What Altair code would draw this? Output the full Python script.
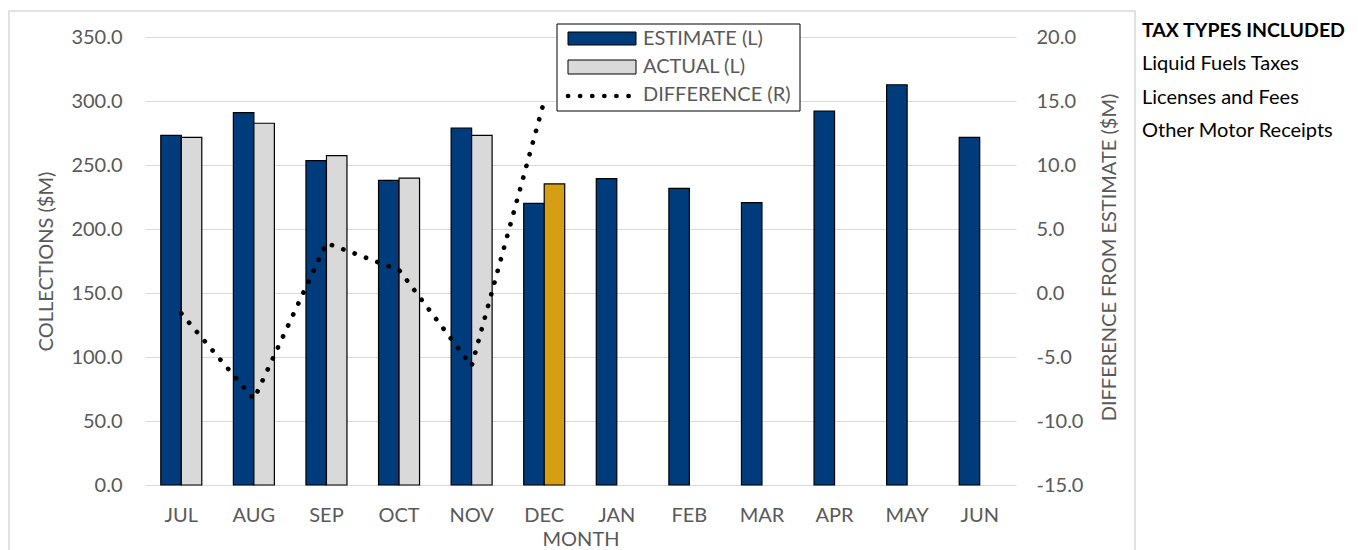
import altair as alt
import pandas as pd

# ---- data ----
months = ["JUL", "AUG", "SEP", "OCT", "NOV", "DEC", "JAN", "FEB", "MAR", "APR", "MAY", "JUN"]
estimate = [273.2, 290.9, 253.4, 238.0, 278.9, 220.0, 239.3, 231.8, 220.6, 292.2, 312.7, 271.6]
actual = [271.6, 282.6, 257.3, 239.8, 273.2, 235.2]
difference = [-1.6, -8.3, 3.9, 1.8, -5.7, 15.0]
left_ticks = [0, 50, 100, 150, 200, 250, 300, 350]
right_ticks = [-15, -10, -5, 0, 5, 10, 15, 20]
legend_labels = ["ESTIMATE (L)", "ACTUAL (L)", "DIFFERENCE (R)"]
tax_title = "TAX TYPES INCLUDED"
tax_types = ["Liquid Fuels Taxes", "Licenses and Fees", "Other Motor Receipts"]

BLUE = "#003B7B"
GRAY = "#D9D9D9"
GOLD = "#D69E12"
TXT = "#595959"
FONT = "Lato"

rows = []
for i, m in enumerate(months):
    rows.append({"month": m, "series": "ESTIMATE", "value": estimate[i], "ck": "ESTIMATE"})
for i, v in enumerate(actual):
    m = months[i]
    rows.append({"month": m, "series": "ACTUAL", "value": v,
                 "ck": "LATEST" if i == len(actual) - 1 else "ACTUAL"})
bars_df = pd.DataFrame(rows)
diff_df = pd.DataFrame({"month": months[:len(difference)], "diff": difference})
one = pd.DataFrame({"a": [0]})

xscale = alt.Scale(domain=months, paddingInner=0.435, paddingOuter=0.2175)
xaxis = alt.Axis(title="MONTH", labelAngle=0, domain=False, ticks=False, grid=False,
                 labelPadding=20, labelFontSize=20, labelColor=TXT,
                 titleFontSize=20, titleColor=TXT, titleFontWeight="normal",
                 titleX=435.5, titleY=54, titleBaseline="middle")

bars = alt.Chart(bars_df).mark_bar(stroke="black", strokeWidth=1.2).encode(
    x=alt.X("month:N", sort=months, scale=xscale, axis=xaxis),
    xOffset=alt.XOffset("series:N", sort=["ESTIMATE", "ACTUAL"],
                        scale=alt.Scale(domain=["ESTIMATE", "ACTUAL"], paddingInner=0, paddingOuter=0)),
    y=alt.Y("value:Q", scale=alt.Scale(domain=[0, 350], nice=False, zero=True),
            axis=alt.Axis(title="COLLECTIONS ($M)", values=left_ticks, format=".1f",
                          domain=False, ticks=False, grid=True, gridColor=GRAY, gridWidth=1,
                          labelPadding=23, labelFontSize=20, labelColor=TXT,
                          titleFontSize=20, titleColor=TXT, titleFontWeight="normal",
                          titleX=-99, titleY=224, titleAngle=270, titleAlign="center",
                          titleBaseline="middle")),
    color=alt.Color("ck:N", scale=alt.Scale(domain=["ESTIMATE", "ACTUAL", "LATEST"],
                                            range=[BLUE, GRAY, GOLD]), legend=None),
)

line = alt.Chart(diff_df).mark_line(color="black", strokeWidth=4.7, strokeDash=[0.1, 12],
                                    strokeCap="round").encode(
    x=alt.X("month:N", sort=months, scale=xscale, axis=xaxis),
    y=alt.Y("diff:Q", scale=alt.Scale(domain=[-15, 20], nice=False, zero=False),
            axis=alt.Axis(orient="right", title="DIFFERENCE FROM ESTIMATE ($M)",
                          values=right_ticks,
                          labelExpr="(datum.value < 0 ? '-' : '') + format(abs(datum.value), '.1f')",
                          domain=False, ticks=False, grid=False,
                          labelPadding=20, labelFontSize=20, labelColor=TXT,
                          titleFontSize=20, titleColor=TXT, titleFontWeight="normal",
                          titleX=93, titleY=220, titleAngle=270, titleAlign="center",
                          titleBaseline="middle")),
)

# outer chart border
border = alt.Chart(one).mark_rect(fill=None, stroke=GRAY, strokeWidth=1.5).encode(
    x=alt.value(-136), x2=alt.value(990), y=alt.value(-26), y2=alt.value(600))

# custom legend
leg_box = alt.Chart(one).mark_rect(fill="white", stroke="black", strokeWidth=1).encode(
    x=alt.value(412), x2=alt.value(655), y=alt.value(-13), y2=alt.value(74))
leg_est = alt.Chart(one).mark_rect(fill=BLUE, stroke="black", strokeWidth=1).encode(
    x=alt.value(423), x2=alt.value(491), y=alt.value(-5), y2=alt.value(8))
leg_act = alt.Chart(one).mark_rect(fill=GRAY, stroke="black", strokeWidth=1).encode(
    x=alt.value(423), x2=alt.value(491), y=alt.value(23), y2=alt.value(37))
leg_dif = alt.Chart(one).mark_rule(color="black", strokeWidth=4.7, strokeDash=[0.1, 12],
                                   strokeCap="round").encode(
    x=alt.value(423), x2=alt.value(486), y=alt.value(59))
leg_txt = [
    alt.Chart(one).mark_text(text=t, align="left", baseline="middle", fontSize=20,
                             color=TXT, font=FONT).encode(x=alt.value(498), y=alt.value(yy))
    for t, yy in zip(legend_labels, [2, 30, 58])
]

# side annotation
side = [alt.Chart(one).mark_text(text=tax_title, align="left", baseline="middle", fontSize=19.5,
                                 fontWeight="bold", color="black", font=FONT).encode(
    x=alt.value(997), y=alt.value(-6))]
for t, yy in zip(tax_types, [27, 61, 94]):
    side.append(alt.Chart(one).mark_text(text=t, align="left", baseline="middle", fontSize=20,
                                         color="black", font=FONT).encode(
        x=alt.value(997), y=alt.value(yy)))

chart = alt.layer(border, bars, line, leg_box, leg_est, leg_act, leg_dif, *leg_txt, *side).resolve_scale(
    y="independent"
).properties(
    width=871, height=448, autosize="none",
    padding={"left": 137, "top": 29, "right": 334, "bottom": 65},
).configure(font=FONT).configure_view(stroke=None)

chart.save("out.html", embed_options={"renderer": "svg", "actions": False})
